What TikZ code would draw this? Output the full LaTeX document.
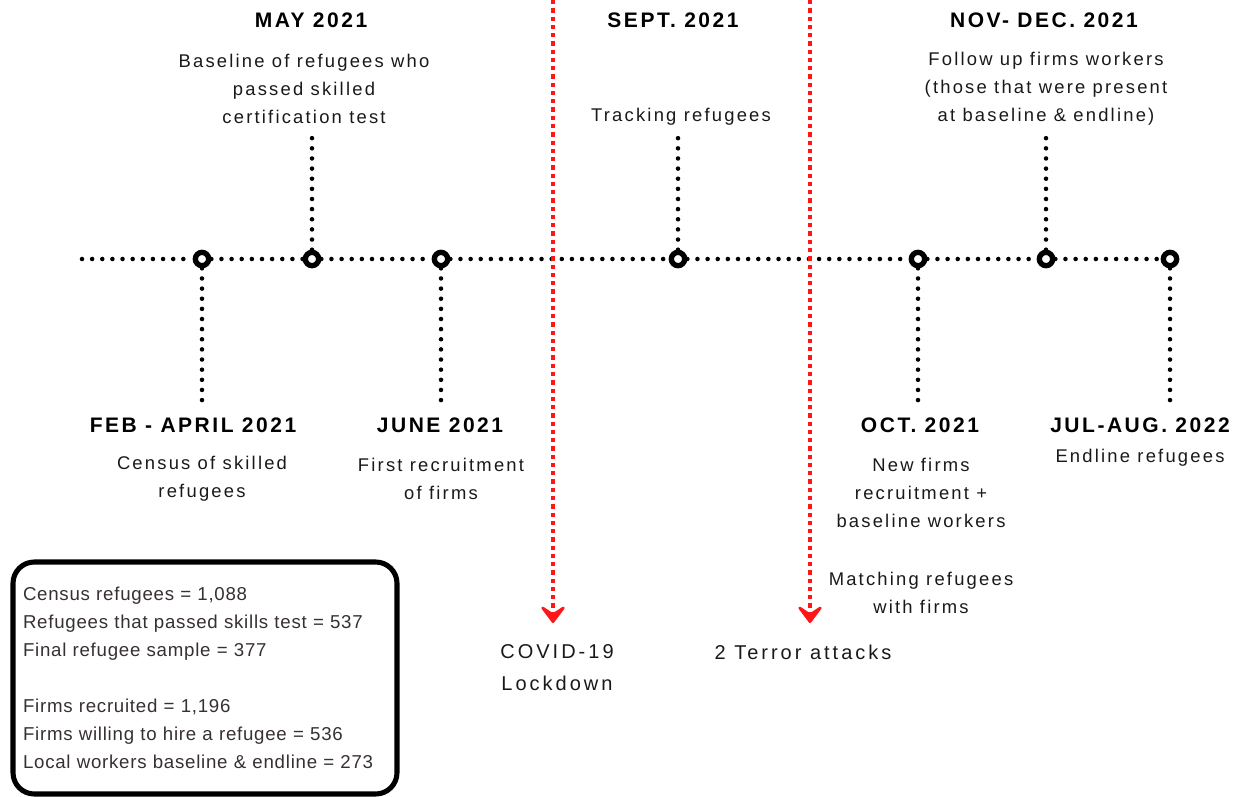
\documentclass[tikz,border=0pt]{standalone}
\usepackage{fontspec}
\setmainfont{Liberation Sans}
\newfontfamily\spacedfont{Liberation Sans}[LetterSpace=12]
\newfontfamily\widefont{Liberation Sans}[LetterSpace=15]
\newfontfamily\boxfont{Liberation Sans}[LetterSpace=4]
\usetikzlibrary{positioning, arrows.meta}
\definecolor{alertred}{RGB}{255,22,22}
\definecolor{boxgray}{RGB}{55,48,48}

\tikzset{
  dotline/.style={line width=3.4pt, dash pattern=on 0pt off 7.6pt, line cap=round},
  alertline/.style={alertred, line width=3.6pt, dash pattern=on 3.2pt off 3pt,
    -{Stealth[length=16pt, width=24pt, inset=8pt, round]}},
  milestone/.style={circle, draw, line width=4pt, fill=white, inner sep=0pt, minimum size=10pt,
    path picture={\fill (path picture bounding box.center) circle (1.5pt);}},
  endpoint/.style={circle, draw, line width=4pt, fill=white, inner sep=0pt, minimum size=10pt},
  datehead/.style={font=\fontsize{15.75}{19}\spacedfont\bfseries, inner sep=0pt},
  datedesc/.style={font=\fontsize{13.8}{21}\spacedfont, align=center, inner sep=0pt, text=black!90},
  event/.style={font=\fontsize{15}{24}\widefont, align=center, inner sep=0pt, text=black!90},
  statbox/.style={draw, line width=3.8pt, rounded corners=16pt, align=left, text=boxgray,
    font=\fontsize{14}{21}\boxfont, minimum width=288pt, minimum height=174pt,
    text width=273pt, inner xsep=7.5pt}
}

\begin{document}
\begin{tikzpicture}[x=0.75pt, y=-0.75pt]
	\useasboundingbox (0,0) rectangle (1245,796);

	% timeline
	\coordinate (tl-start) at (82,259);
	\node[milestone] (feb) at (202,259) {};
	\node[milestone] (may) at (312,259) {};
	\node[milestone] (june) at (441,259) {};
	\node[milestone] (sept) at (678,259) {};
	\node[milestone] (oct) at (918,259) {};
	\node[milestone] (nov) at (1046,259) {};
	\node[endpoint] (jul) at (1170,259) {};
	\draw[dotline] (tl-start) -- (feb) -- (may) -- (june) -- (sept) -- (oct) -- (nov) -- (jul);

	% stems
	\coordinate (feb-end) at (202,402);
	\coordinate (may-end) at (312,137);
	\coordinate (june-end) at (441,402);
	\coordinate (sept-end) at (678,137);
	\coordinate (oct-end) at (918,402);
	\coordinate (nov-end) at (1046,137);
	\coordinate (jul-end) at (1170,402);
	\foreach \m in {feb, may, june, sept, oct, nov, jul}
		\draw[dotline] (\m) -- (\m-end);

	% dates above
	\node[datehead] (may-head) at (311,20) {MAY 2021};
	\node[datedesc] (may-text) at (304,89) {Baseline of refugees who\\passed skilled\\certification test};
	\node[datehead] (sept-head) at (673,20) {SEPT. 2021};
	\node[datedesc] (sept-text) at (681,117) {Tracking refugees};
	\node[datehead] (nov-head) at (1044,20) {NOV- DEC. 2021};
	\node[datedesc] (nov-text) at (1046,89) {Follow up firms workers\\(those that were present\\at baseline \& endline)};

	% dates below
	\node[datehead] (feb-head) at (193,425) {FEB - APRIL 2021};
	\node[datedesc] (feb-text) at (202,479) {Census of skilled\\refugees};
	\node[datehead] (june-head) at (440,425) {JUNE 2021};
	\node[datedesc] (june-text) at (441,479) {First recruitment\\of firms};
	\node[datehead] (oct-head) at (920,425) {OCT. 2021};
	\node[datedesc] (oct-text) at (921,493) {New firms\\recruitment +\\baseline workers};
	\node[datedesc] (match-text) at (921,593) {Matching refugees\\with firms};
	\node[datehead] (jul-head) at (1140,425) {JUL-AUG. 2022};
	\node[datedesc] (jul-text) at (1140,458) {Endline refugees};

	% shocks
	\coordinate (covid-top) at (553,0);
	\coordinate (covid-tip) at (553,623);
	\coordinate (terror-top) at (810,0);
	\coordinate (terror-tip) at (810,623);
	\draw[alertline] (covid-top) -- (covid-tip);
	\draw[alertline] (terror-top) -- (terror-tip);
	\node[event] (covid) at (557,668) {COVID-19\\Lockdown};
	\node[event] (terror) at (803,652) {2 Terror attacks};

	% sample sizes
	\node[statbox] (stats) at (205,678) {Census refugees = 1,088\\
		Refugees that passed skills test = 537\\
		Final refugee sample = 377\\[21pt]
		Firms recruited = 1,196\\
		Firms willing to hire a refugee = 536\\
		Local workers baseline \& endline = 273};
\end{tikzpicture}
\end{document}
